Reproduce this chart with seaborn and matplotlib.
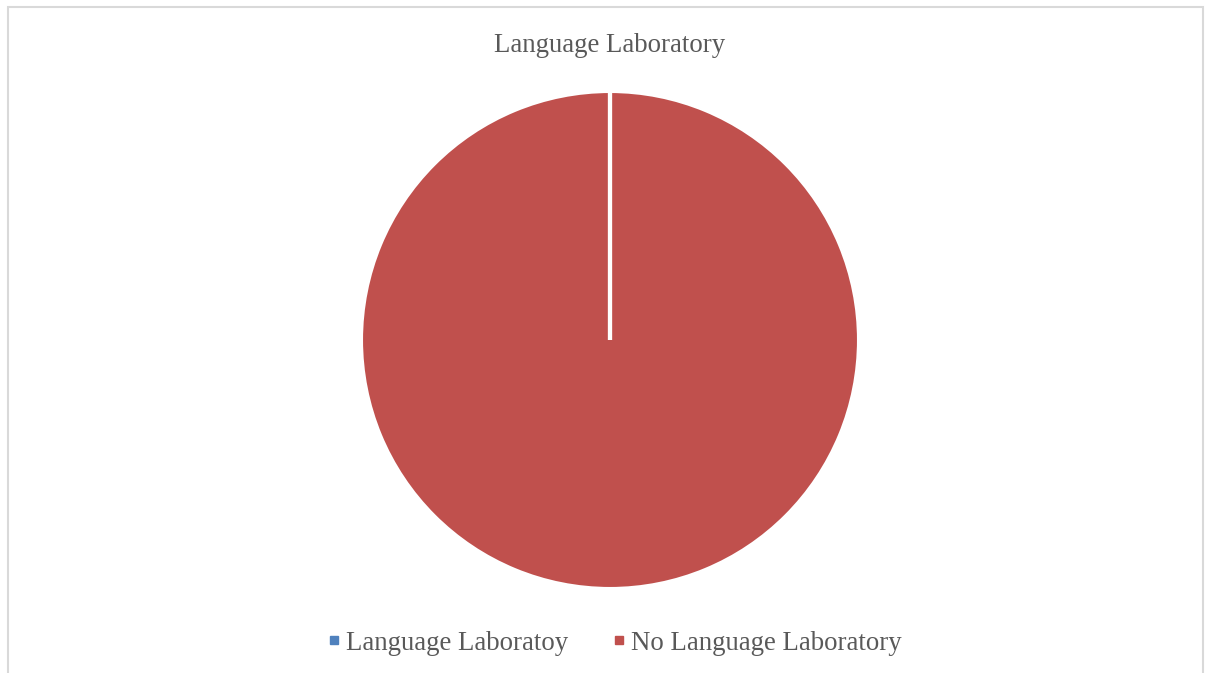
import matplotlib
matplotlib.use("Agg")
import matplotlib.pyplot as plt
import seaborn as sns
import numpy as np
from matplotlib.lines import Line2D
from matplotlib.patches import Rectangle

categories = ["Language Laboratoy", "No Language Laboratory"]
values = [0, 100]
colors = ["#4F81BD", "#C0504D"]
title = "Language Laboratory"

sns.set_theme(style="white")
plt.rcParams["font.family"] = ["Liberation Serif", "DejaVu Serif"]

W, H = 1205, 673
fig = plt.figure(figsize=(W / 100, H / 100), dpi=100)
fig.patch.set_facecolor("white")

cx, cy, r = 610, 340, 248
ax = fig.add_axes([(cx - r) / W, (H - cy - r) / H, 2 * r / W, 2 * r / H])
wedges, _ = ax.pie(values, colors=colors, startangle=90, counterclock=False,
                   radius=1, wedgeprops=dict(edgecolor="white", linewidth=1.5))
# boundary lines of each wedge (the zero-size wedge shows as a white line)
for w in wedges:
    if w.theta2 - w.theta1 < 1e-9 or w.theta2 - w.theta1 >= 360 - 1e-9:
        ang = np.deg2rad(w.theta1)
        ax.plot([0, np.cos(ang)], [0, np.sin(ang)], color="white",
                linewidth=3.0, solid_capstyle="butt", zorder=5)
ax.set_xlim(-1, 1)
ax.set_ylim(-1, 1)
ax.set_aspect("equal")
ax.axis("off")

text_color = "#595959"
fig.text(cx / W, 1 - 46 / H, title, ha="center", va="center",
         fontsize=19.3, color=text_color)

handles = [Line2D([], [], marker="s", linestyle="", color=c, markersize=5.8)
           for c in colors]
leg = fig.legend(handles, categories, loc="center",
                 bbox_to_anchor=((cx + 5) / W, 1 - 643 / H), ncol=2, frameon=False,
                 fontsize=19.3, handlelength=0.4, handletextpad=0.25,
                 columnspacing=1.68, labelcolor=text_color)

fig.patches.append(Rectangle((8 / W, -0.05), (1203 - 8) / W, 1 - 7 / H + 0.05,
                             transform=fig.transFigure, fill=False,
                             edgecolor="#d9d9d9", linewidth=1.5))

fig.savefig("out.png", dpi=100)
